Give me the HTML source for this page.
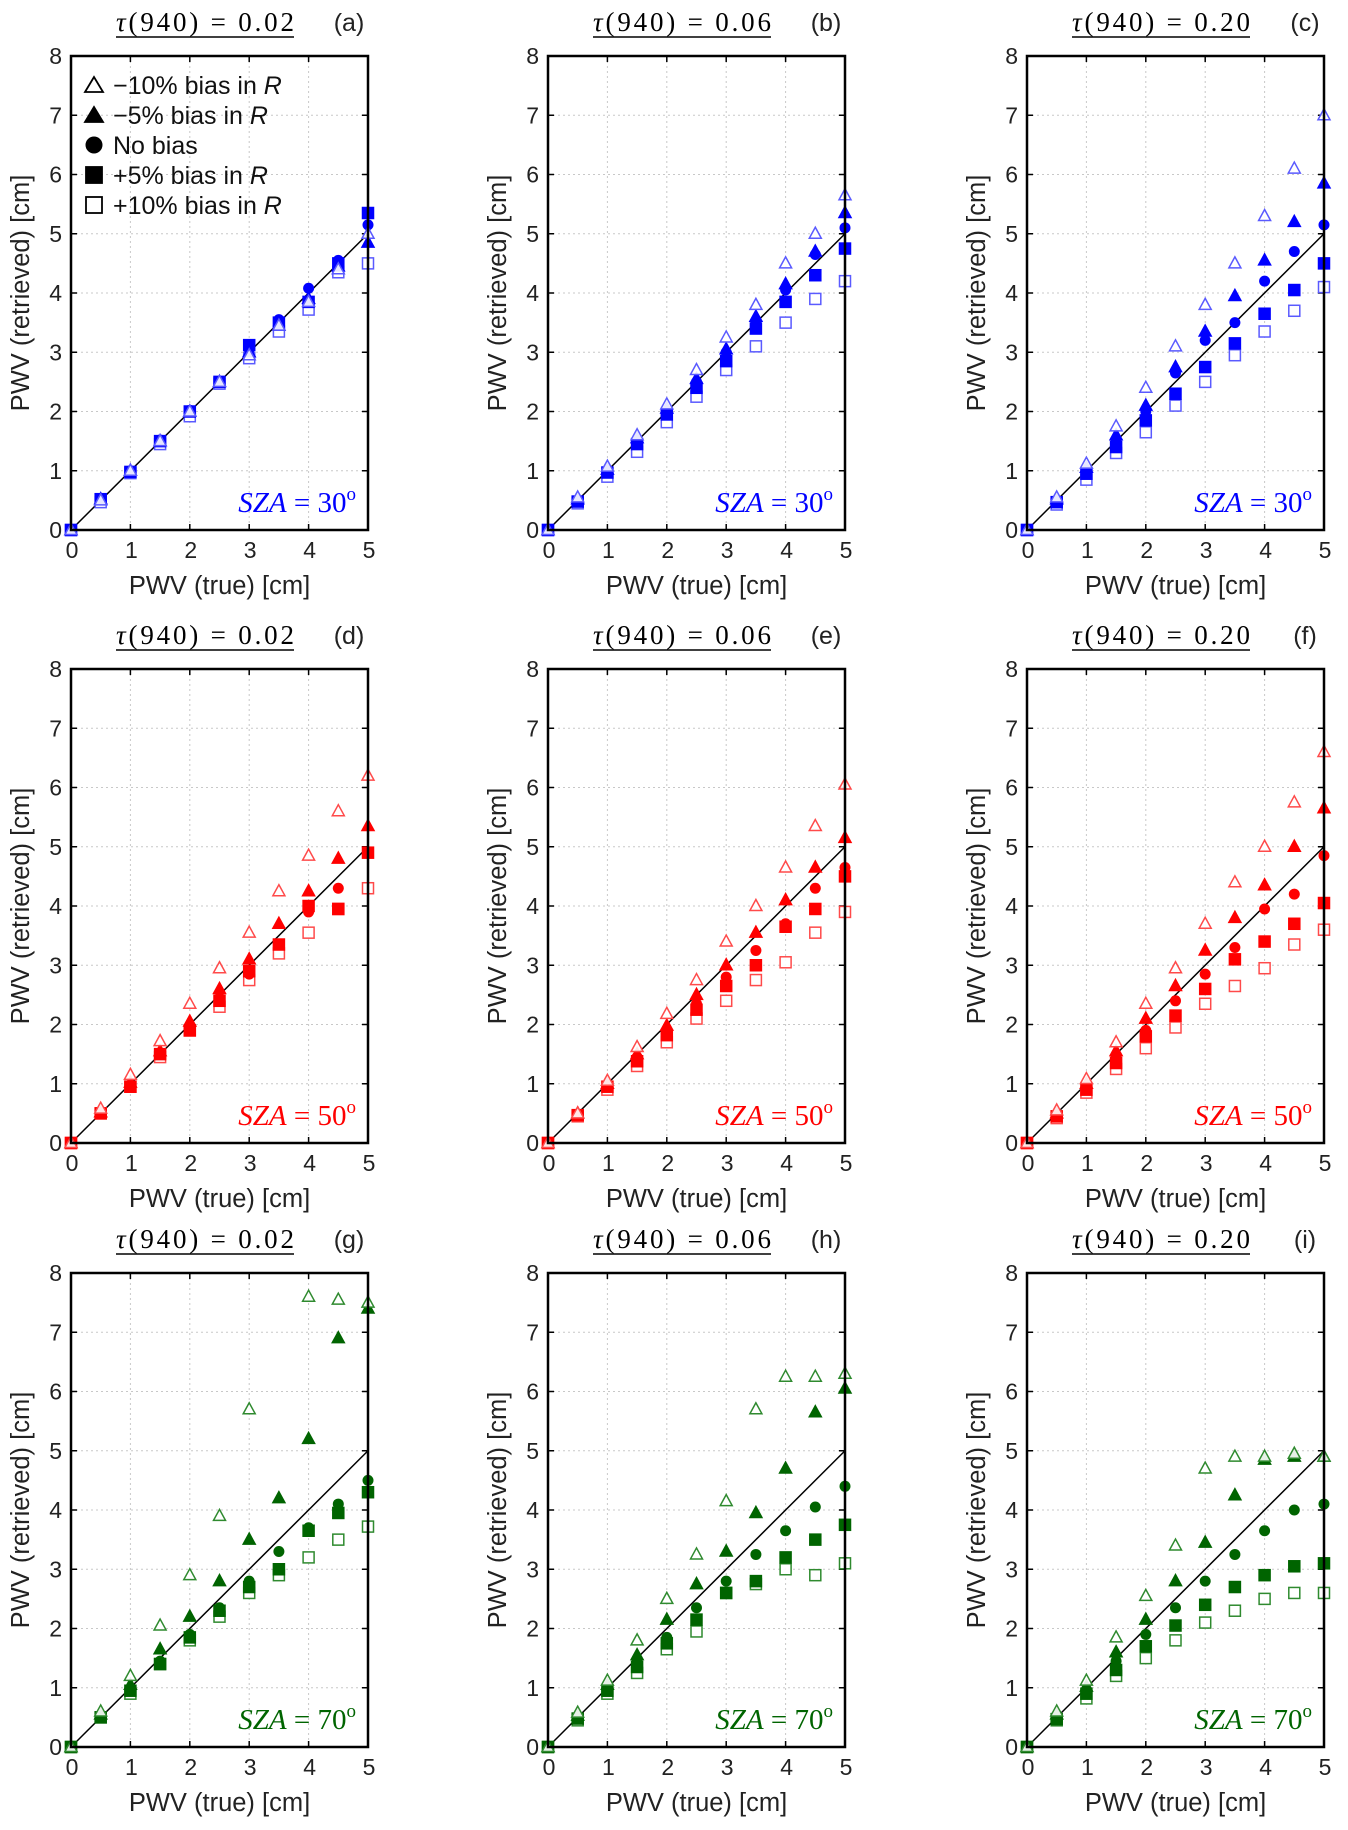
<!DOCTYPE html>
<html><head><meta charset="utf-8"><style>
html,body{margin:0;padding:0;background:#fff}
svg text{font-family:"Liberation Sans",sans-serif}
</style></head><body>
<svg id="fig" width="1348" height="1825" viewBox="0 0 1348 1825" xmlns="http://www.w3.org/2000/svg"></svg>
<script>
const xCats=[0,0.5,1,1.5,2,2.5,3,3.5,4,4.5,5];
const yTicks=[0,1,2,3,4,5,6,7,8];
const xTicks=[0,1,2,3,4,5];
const panelLabels=['a','b','c','d','e','f','g','h','i'];
const tauLabels=['0.02','0.06','0.20'];
const szaLabels=['30','50','70'];
// series per panel: [triOpen, triFill, circle, sqFill, sqOpen]
const pa_triO=[0,0.5,1,1.5,2,2.5,2.95,3.45,3.85,4.4,5.0];
const pa_triF=[0,0.52,1,1.5,2,2.5,3.0,3.45,3.9,4.45,4.85];
const pa_circ=[0,0.52,1,1.52,2.02,2.5,3.05,3.55,4.08,4.55,5.15];
const pa_sqF=[0,0.52,0.98,1.5,2,2.5,3.12,3.5,3.85,4.5,5.35];
const pa_sqO=[0,0.47,0.96,1.45,1.92,2.47,2.9,3.35,3.72,4.35,4.5];
const pb_triO=[0,0.55,1.07,1.6,2.12,2.7,3.25,3.8,4.5,5.0,5.65];
const pb_triF=[0,0.52,1.02,1.55,2.05,2.55,3.05,3.6,4.15,4.7,5.35];
const pb_circ=[0,0.5,1,1.5,2,2.5,3,3.5,4.05,4.65,5.1];
const pb_sqF=[0,0.48,0.97,1.45,1.95,2.4,2.85,3.4,3.85,4.3,4.75];
const pb_sqO=[0,0.45,0.9,1.32,1.82,2.25,2.7,3.1,3.5,3.9,4.2];
const pc_triO=[0,0.55,1.12,1.75,2.4,3.1,3.8,4.5,5.3,6.1,7.0];
const pc_triF=[0,0.52,1.05,1.6,2.1,2.75,3.35,3.95,4.55,5.2,5.85];
const pc_circ=[0,0.5,1,1.5,2,2.65,3.2,3.5,4.2,4.7,5.15];
const pc_sqF=[0,0.47,0.95,1.4,1.85,2.3,2.75,3.15,3.65,4.05,4.5];
const pc_sqO=[0,0.43,0.85,1.3,1.65,2.1,2.5,2.95,3.35,3.7,4.1];
const pd_triO=[0,0.58,1.15,1.72,2.35,2.95,3.55,4.25,4.85,5.6,6.2];
const pd_triF=[0,0.52,1.02,1.55,2.05,2.6,3.1,3.7,4.25,4.8,5.35];
const pd_circ=[0,0.5,0.98,1.5,1.95,2.45,2.85,3.35,3.9,4.3,4.9];
const pd_sqF=[0,0.5,0.95,1.5,1.9,2.4,2.9,3.35,4.0,3.95,4.9];
const pd_sqO=[0,0.5,0.95,1.45,1.9,2.3,2.75,3.2,3.55,3.95,4.3];
const pe_triO=[0,0.5,1.05,1.62,2.18,2.75,3.4,4.0,4.65,5.35,6.05];
const pe_triF=[0,0.5,1.0,1.5,1.98,2.5,3.0,3.55,4.1,4.65,5.15];
const pe_circ=[0,0.48,0.98,1.45,1.9,2.35,2.8,3.25,3.7,4.3,4.65];
const pe_sqF=[0,0.47,0.95,1.38,1.82,2.25,2.65,3.0,3.65,3.95,4.5];
const pe_sqO=[0,0.45,0.9,1.3,1.7,2.1,2.4,2.75,3.05,3.55,3.9];
const pf_triO=[0,0.55,1.08,1.7,2.35,2.95,3.7,4.4,5.0,5.75,6.6];
const pf_triF=[0,0.5,1.0,1.55,2.1,2.65,3.25,3.8,4.35,5.0,5.65];
const pf_circ=[0,0.48,0.95,1.45,1.9,2.4,2.85,3.3,3.95,4.2,4.85];
const pf_sqF=[0,0.45,0.9,1.35,1.8,2.15,2.6,3.1,3.4,3.7,4.05];
const pf_sqO=[0,0.42,0.85,1.25,1.6,1.95,2.35,2.65,2.95,3.35,3.6];
const pg_triO=[0,0.6,1.2,2.05,2.9,3.9,5.7,null,7.6,7.55,7.5];
const pg_triF=[0,0.55,1.05,1.65,2.2,2.8,3.5,4.2,5.2,6.9,7.4];
const pg_circ=[0,0.5,0.95,1.45,1.9,2.35,2.8,3.3,3.7,4.1,4.5];
const pg_sqF=[0,0.5,0.95,1.4,1.85,2.3,2.7,3.0,3.65,3.95,4.3];
const pg_sqO=[0,0.5,0.9,1.4,1.8,2.2,2.6,2.9,3.2,3.5,3.72];
const ph_triO=[0,0.58,1.12,1.8,2.5,3.25,4.15,5.7,6.25,6.25,6.3];
const ph_triF=[0,0.53,1.05,1.55,2.15,2.75,3.3,3.95,4.7,5.65,6.05];
const ph_circ=[0,0.5,1.0,1.45,1.85,2.35,2.8,3.25,3.65,4.05,4.4];
const ph_sqF=[0,0.48,0.95,1.35,1.75,2.15,2.6,2.8,3.2,3.5,3.75];
const ph_sqO=[0,0.45,0.9,1.25,1.65,1.95,2.6,2.75,3.0,2.9,3.1];
const pi_triO=[0,0.6,1.12,1.85,2.55,3.4,4.7,4.9,4.9,4.95,4.9];
const pi_triF=[0,0.55,1.02,1.6,2.15,2.8,3.45,4.25,4.85,4.9,4.9];
const pi_circ=[0,0.5,0.97,1.45,1.9,2.35,2.8,3.25,3.65,4.0,4.1];
const pi_sqF=[0,0.47,0.9,1.3,1.7,2.05,2.4,2.7,2.9,3.05,3.1];
const pi_sqO=[0,0.45,0.82,1.2,1.5,1.8,2.1,2.3,2.5,2.6,2.6];
const panels=[
 [pa_triO,pa_triF,pa_circ,pa_sqF,pa_sqO],[pb_triO,pb_triF,pb_circ,pb_sqF,pb_sqO],[pc_triO,pc_triF,pc_circ,pc_sqF,pc_sqO],
 [pd_triO,pd_triF,pd_circ,pd_sqF,pd_sqO],[pe_triO,pe_triF,pe_circ,pe_sqF,pe_sqO],[pf_triO,pf_triF,pf_circ,pf_sqF,pf_sqO],
 [pg_triO,pg_triF,pg_circ,pg_sqF,pg_sqO],[ph_triO,ph_triF,ph_circ,ph_sqF,ph_sqO],[pi_triO,pi_triF,pi_circ,pi_sqF,pi_sqO]];
const serNames=['minus10-tri-open','minus5-tri-filled','no-bias-circle','plus5-square-filled','plus10-square-open'];

const NS='http://www.w3.org/2000/svg';
const svg=document.getElementById('fig');
function mk(tag,attrs,parent,txt){const e=document.createElementNS(NS,tag);for(const k in attrs)e.setAttribute(k,attrs[k]);if(txt!==undefined)e.textContent=txt;(parent||svg).appendChild(e);return e;}
const colL=[71,548,1027], plotW=297;
const rowT=[56,669,1273], plotH=474;
const rowColor=[['#0000ff','#5a5aff'],['#ff0000','#ff4a4a'],['#006400','#2f8a2f']];

function marker(g,type,cx,cy,col){
  const s=5.5;let e;
  if(type===0||type===1){
    const pts=`${cx},${cy-s-1} ${cx-s-0.5},${cy+s-1} ${cx+s+0.5},${cy+s-1}`;
    e=mk('polygon',{points:pts,fill:type===1?col:'#fff','fill-opacity':type===1?1:0.9,stroke:col,'stroke-width':1.5},g);
  } else if(type===2){
    e=mk('circle',{cx:cx,cy:cy,r:s,fill:col},g);
  } else {
    e=mk('rect',{x:cx-s,y:cy-s,width:2*s,height:2*s,fill:type===3?col:'#fff','fill-opacity':type===3?1:0.9,stroke:col,'stroke-width':1.5},g);
  }
  return e;
}

for(let p=0;p<9;p++){
  const r=Math.floor(p/3),c=p%3;
  const L=colL[c],T=rowT[r];
  const xs=v=>L+v/5*plotW, ys=v=>T+plotH-v/8*plotH;
  const g=mk('g',{});
  
  
  for(const t of xTicks.slice(1,-1)){const l=mk('line',{x1:xs(t),x2:xs(t),y1:T,y2:T+plotH,stroke:'#c8c8c8','stroke-dasharray':'2,3','stroke-width':1},g);}
  for(const t of yTicks.slice(1,-1)){const l=mk('line',{x1:L,x2:L+plotW,y1:ys(t),y2:ys(t),stroke:'#c8c8c8','stroke-dasharray':'2,3','stroke-width':1},g);}
  for(const t of xTicks){mk('line',{x1:xs(t),x2:xs(t),y1:T+plotH,y2:T+plotH-6,stroke:'#000','stroke-width':1.5},g);mk('line',{x1:xs(t),x2:xs(t),y1:T,y2:T+6,stroke:'#000','stroke-width':1.5},g);
    const tl=mk('text',{x:xs(t)+1,y:T+plotH+28,'font-size':23,'text-anchor':'middle',fill:'#222'},g,String(t));}
  for(const t of yTicks){mk('line',{x1:L,x2:L+6,y1:ys(t),y2:ys(t),stroke:'#000','stroke-width':1.5},g);mk('line',{x1:L+plotW,x2:L+plotW-6,y1:ys(t),y2:ys(t),stroke:'#000','stroke-width':1.5},g);
    const tl=mk('text',{x:L-9,y:ys(t)+8,'font-size':23,'text-anchor':'end',fill:'#222'},g,String(t));}
  const ol=mk('line',{x1:xs(0),y1:ys(0),x2:xs(5),y2:ys(5),stroke:'#000','stroke-width':1.5},g);
  
  const order=[4,3,2,1,0];
  for(const si of order){
    const sg=mk('g',{},g);
    
    
    const col=(si===0||si===4)?rowColor[r][1]:rowColor[r][0];
    const data=panels[p][si];
    for(let i=0;i<xCats.length;i++){
      if(data[i]===null||data[i]===undefined)continue;
      const m=marker(sg,si,xs(xCats[i]),ys(data[i]),col);
      
      
    }
  }
  const fr=mk('rect',{x:L,y:T,width:plotW,height:plotH,fill:'none',stroke:'#000','stroke-width':2.5},g);
  
  const xl=mk('text',{x:L+plotW/2,y:T+plotH+64,'font-size':25.5,'text-anchor':'middle',fill:'#222'},g,'PWV (true) [cm]');
  
  const yl=mk('text',{x:0,y:0,'font-size':25.5,'text-anchor':'middle',fill:'#222',transform:`translate(${L-42},${T+plotH/2}) rotate(-90)`},g,'PWV (retrieved) [cm]');
  
  const tt=mk('text',{x:L+45,y:T-25,'font-size':27,textLength:178,lengthAdjust:'spacing',fill:'#000',style:'font-family:"Liberation Serif",serif'},g);
  
  mk('tspan',{'font-style':'italic'},tt,'τ');
  mk('tspan',{},tt,'(940) = '+tauLabels[c]);
  mk('line',{x1:L+45,x2:L+223,y1:T-19,y2:T-19,stroke:'#000','stroke-width':1.5},g);
  const pl=mk('text',{x:L+278,y:T-25,'font-size':25,'text-anchor':'middle',fill:'#222'},g,'('+panelLabels[p]+')');
  
  const sz=mk('text',{x:L+285,y:T+plotH-18,'font-size':29,'text-anchor':'end',fill:rowColor[r][0],style:'font-family:"Liberation Serif",serif'},g);
  
  mk('tspan',{'font-style':'italic'},sz,'SZA');
  mk('tspan',{},sz,' = '+szaLabels[r]);
  mk('tspan',{'font-size':19,dy:-12},sz,'o');
}
const leg=mk('g',{});


const legTexts=[['−10% bias in ','R'],['−5% bias in ','R'],['No bias',''],['+5% bias in ','R'],['+10% bias in ','R']];
for(let i=0;i<5;i++){
  const y=85+i*30;
  const e=mk('g',{},leg);
  
  
  if(i<2){mk('polygon',{points:`94,${y-8} 85,${y+7} 103,${y+7}`,fill:i===1?'#000':'#fff',stroke:'#000','stroke-width':1.8},e);}
  else if(i===2){mk('circle',{cx:94,cy:y,r:8.5,fill:'#000'},e);}
  else {mk('rect',{x:86,y:y-8,width:16,height:16,fill:i===3?'#000':'#fff',stroke:'#000','stroke-width':1.8},e);}
  const t=mk('text',{x:113,y:y+9,'font-size':25,fill:'#111'},e,legTexts[i][0]);
  if(legTexts[i][1])mk('tspan',{'font-style':'italic'},t,legTexts[i][1]);
}
</script>
</body></html>
